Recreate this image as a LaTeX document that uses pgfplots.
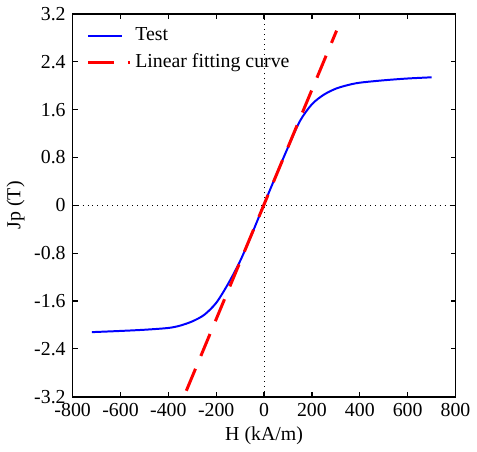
\documentclass[border=0pt]{standalone}
\usepackage{pgfplots}
\pgfplotsset{compat=1.18}
\usepackage{fontspec}
\setmainfont{Liberation Serif}
\begin{document}
\begin{tikzpicture}
\begin{axis}[
  name=ax,
  scale only axis,
  width=193pt, height=193pt,
  xmin=-800, xmax=800, ymin=-3.2, ymax=3.2,
  xtick={-800,-600,...,800},
  ytick={-3.2,-2.4,-1.6,-0.8,0,0.8,1.6,2.4,3.2},
  yticklabels={-3.2,-2.4,-1.6,-0.8,0,0.8,1.6,2.4,3.2},
  /pgf/number format/assume math mode=true,
  axis line style={line width=0.8pt},
  major tick length=2.5pt,
  tick style={line width=0.6pt, black},
  xlabel={H (kA/m)},
  ylabel={Jp (T)},
  xlabel style={yshift=2pt},
  ylabel style={yshift=-2pt},
  legend style={draw=none, fill=none, at={(rel axis cs:0.02,0.985)}, anchor=north west, row sep=1pt},
  legend cell align=left,
]
\draw[black, dotted, line width=0.5pt] (axis cs:0,-3.2) -- (axis cs:0,3.2);
\draw[black, dotted, line width=0.5pt] (axis cs:-800,0) -- (axis cs:800,0);
\addplot[blue, line width=1pt, smooth] coordinates {
(-720,-2.12) (-600,-2.10) (-500,-2.08) (-400,-2.05) (-350,-2.01) (-300,-1.94) (-250,-1.83)
(-200,-1.63) (-150,-1.31) (-100,-0.93) (-50,-0.47) (0,0.02) (50,0.50) (100,0.97)
(150,1.41) (200,1.69) (250,1.85) (300,1.95) (350,2.01) (400,2.05) (500,2.09) (600,2.12) (700,2.14)
};
\addlegendentry{Test}
\addplot[red, line width=1.5pt, dash pattern=on 12pt off 7pt,
  legend image code/.code={\draw[red, line width=1.5pt, dash pattern=on 13pt off 7pt on 1pt off 7pt] (0pt,0pt) -- (21pt,0pt);}]
  coordinates {(-325,-3.10) (303,2.92)};
\addlegendentry{Linear fitting curve}
\end{axis}
\path ([shift={(-35pt,-27pt)}]ax.south west) rectangle ([shift={(10.5pt,7pt)}]ax.north east);
\end{tikzpicture}
\end{document}
